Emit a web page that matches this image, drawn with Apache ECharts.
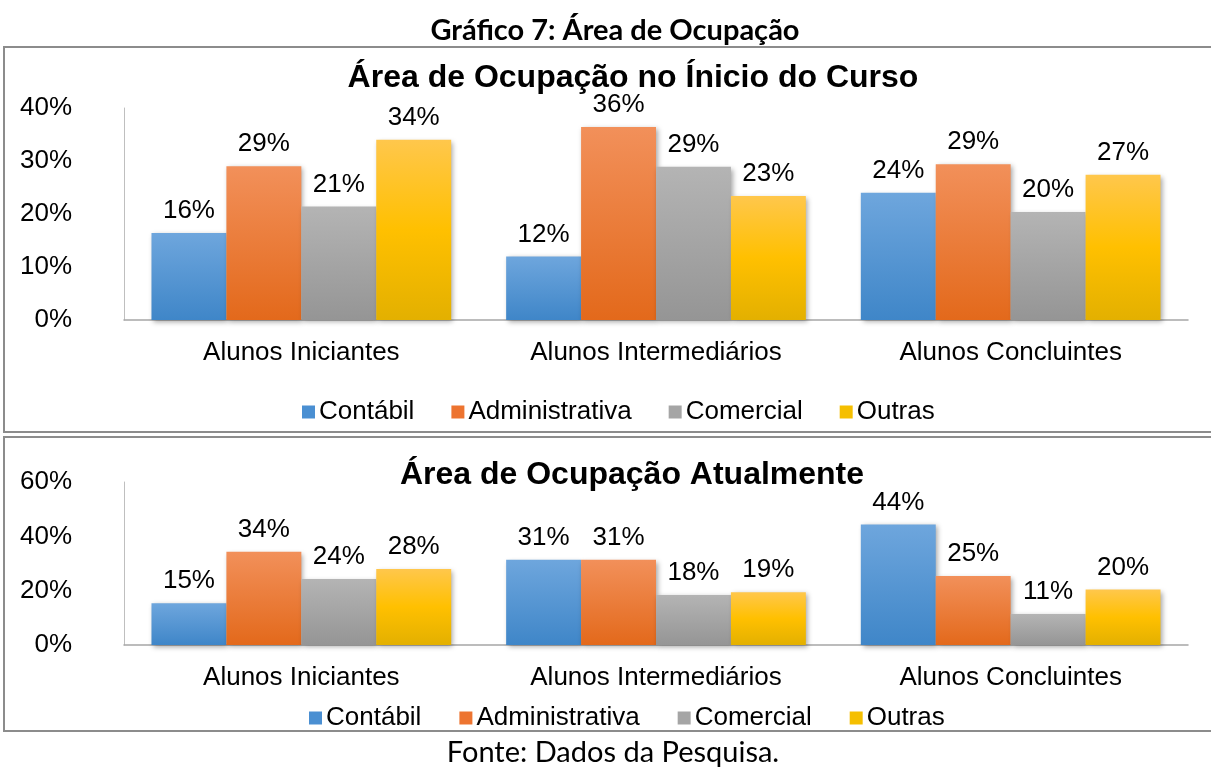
<!DOCTYPE html>
<html><head><meta charset="utf-8">
<script src="https://cdn.jsdelivr.net/npm/echarts@6/dist/echarts.min.js"></script>
<style>html,body{margin:0;padding:0;background:#fff}#c{width:1211px;height:768px}</style>
</head><body><div id="c"></div>
<script>
const categories = ['Alunos Iniciantes', 'Alunos Intermediários', 'Alunos Concluintes'];
const seriesNames = ['Contábil', 'Administrativa', 'Comercial', 'Outras'];
// Chart 1: Área de Ocupação no Ínicio do Curso (%)
const inicioContabil = [16.4, 12.0, 24.0];
const inicioAdministrativa = [29.0, 36.4, 29.4];
const inicioComercial = [21.4, 28.9, 20.4];
const inicioOutras = [34.0, 23.4, 27.4];
// Chart 2: Área de Ocupação Atualmente (%)
const atualContabil = [15.4, 31.4, 44.4];
const atualAdministrativa = [34.3, 31.4, 25.4];
const atualComercial = [24.3, 18.4, 11.4];
const atualOutras = [28.0, 19.4, 20.4];
const ticks1 = [0, 10, 20, 30, 40];
const ticks2 = [0, 20, 40, 60];

const grad = (a, b, c) => new echarts.graphic.LinearGradient(0, 0, 0, 1, c ? [
  {offset: 0, color: a}, {offset: 0.5, color: b}, {offset: 1, color: c}] : [
  {offset: 0, color: a}, {offset: 1, color: b}]);
const fills = [
  () => grad('#6ea6dd', '#3f86c8'),
  () => grad('#f2905a', '#e3691b'),
  () => grad('#b4b4b4', '#959595'),
  () => grad('#ffc74c', '#ffc000', '#e3b000')
];
const legendColors = ['#4a8fd2', '#ed7430', '#a5a5a5', '#f5bf00'];
const font = 'Liberation Sans, Arial, sans-serif';
const FS = 26;

function mkSeries(name, data, idx, axisIdx) {
  return {
    type: 'bar', name, data, xAxisIndex: axisIdx, yAxisIndex: axisIdx,
    barGap: '0%', barCategoryGap: '15.5%',
    itemStyle: {color: fills[idx](), shadowColor: 'rgba(0,0,0,0.35)', shadowBlur: 5, shadowOffsetX: 2, shadowOffsetY: 2},
    label: {show: true, position: 'top', distance: 9, fontFamily: font, fontSize: FS, color: '#000',
      formatter: p => Math.round(p.value) + '%'},
    emphasis: {disabled: true}
  };
}
function yAxis(max, interval, gridIndex) {
  return {type: 'value', gridIndex, min: 0, max, interval,
    axisLine: {show: true, lineStyle: {color: '#bfbfbf', width: 1}},
    axisTick: {show: false}, splitLine: {show: false},
    axisLabel: {fontFamily: font, fontSize: FS, color: '#000', margin: 52, formatter: v => v + '%'}};
}
function xAxis(gridIndex) {
  return {type: 'category', gridIndex, data: categories,
    axisLine: {lineStyle: {color: '#a6a6a6', width: 1.5}}, axisTick: {show: false},
    axisLabel: {fontFamily: font, fontSize: FS, color: '#000', margin: 20}};
}
function legend(top, gap, left) {
  return {top, left, itemWidth: 13, itemHeight: 13, itemGap: gap, icon: 'rect', padding: 0,
    textStyle: {fontFamily: font, fontSize: FS, color: '#000', padding: [0, 0, 0, -1]},
    data: seriesNames.map((n, i) => ({name: n, itemStyle: {color: legendColors[i]}}))};
}

const chart = echarts.init(document.getElementById('c'));
chart.setOption({
  animation: false,
  title: [
    {text: 'Gráfico 7: Área de Ocupação', left: 615, textAlign: 'center', top: 16, padding: 0, textStyle: {fontFamily: 'Lato, sans-serif', fontWeight: 'bold', fontSize: 29, color: '#000'}},
    {text: 'Área de Ocupação no Ínicio do Curso', left: 633, textAlign: 'center', top: 62, padding: 0, textStyle: {fontFamily: font, fontWeight: 'bold', fontSize: 32, color: '#000'}},
    {text: 'Área de Ocupação Atualmente', left: 632, textAlign: 'center', top: 459, padding: 0, textStyle: {fontFamily: font, fontWeight: 'bold', fontSize: 32, color: '#000'}},
    {text: 'Fonte: Dados da Pesquisa.', left: 613, textAlign: 'center', top: 738, padding: 0, textStyle: {fontFamily: 'Lato, sans-serif', fontWeight: 'normal', fontSize: 29, color: '#000'}}
  ],
  graphic: [
    {type: 'rect', shape: {x: 4, y: 47, width: 1215, height: 385}, style: {fill: 'none', stroke: '#8c8c8c', lineWidth: 2}, silent: true},
    {type: 'rect', shape: {x: 4, y: 437, width: 1215, height: 294}, style: {fill: 'none', stroke: '#8c8c8c', lineWidth: 2}, silent: true}
  ],
  legend: [legend(399, 37, 302), legend(705, 38, 309)],
  grid: [
    {left: 124, right: 23, top: 108, height: 212},
    {left: 124, right: 23, top: 482, height: 163}
  ],
  xAxis: [xAxis(0), xAxis(1)],
  yAxis: [yAxis(40, 10, 0), yAxis(60, 20, 1)],
  series: [
    mkSeries('Contábil', inicioContabil, 0, 0),
    mkSeries('Administrativa', inicioAdministrativa, 1, 0),
    mkSeries('Comercial', inicioComercial, 2, 0),
    mkSeries('Outras', inicioOutras, 3, 0),
    mkSeries('Contábil', atualContabil, 0, 1),
    mkSeries('Administrativa', atualAdministrativa, 1, 1),
    mkSeries('Comercial', atualComercial, 2, 1),
    mkSeries('Outras', atualOutras, 3, 1)
  ]
});
</script></body></html>
